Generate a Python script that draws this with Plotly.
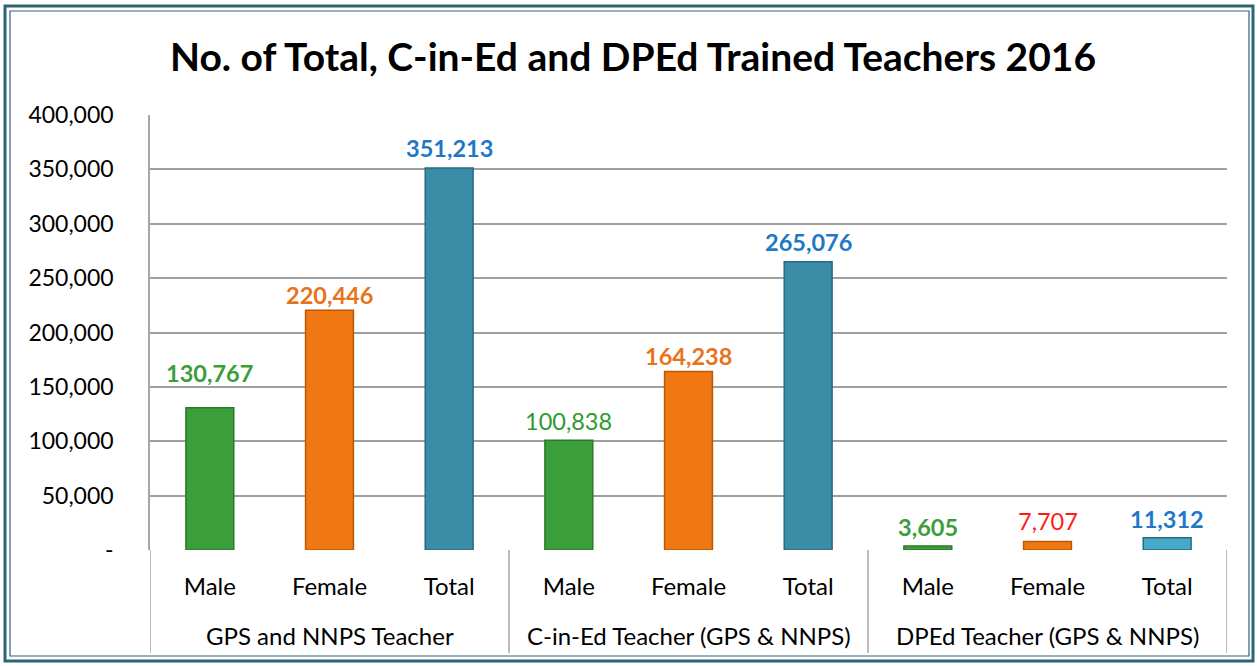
import plotly.graph_objects as go

# ---- data ----
groups = ["GPS and NNPS Teacher", "C-in-Ed Teacher (GPS & NNPS)", "DPEd Teacher (GPS & NNPS)"]
subcats = ["Male", "Female", "Total"]
gps_values = [130767, 220446, 351213]
cined_values = [100838, 164238, 265076]
dped_values = [3605, 7707, 11312]
y_tickvals = [0, 50000, 100000, 150000, 200000, 250000, 300000, 350000, 400000]
y_ticktext = ["-", "50,000", "100,000", "150,000", "200,000", "250,000", "300,000", "350,000", "400,000"]

values = gps_values + cined_values + dped_values
labels = subcats * 3
xpos = list(range(len(values)))

bar_colors = ["#3A9E3A", "#F07711", "#3A8DA6",
              "#3A9E3A", "#F07711", "#3A8DA6",
              "#3A9E3A", "#F07711", "#46A9C8"]
line_colors = ["#2B7A2B", "#B8580A", "#2A6A80",
               "#2B7A2B", "#B8580A", "#2A6A80",
               "#2B7A2B", "#B8580A", "#2A6A80"]
label_colors = ["#3A9E3A", "#E8731A", "#1F78C6",
                "#2E9A2E", "#E8731A", "#1F78C6",
                "#3A9E3A", "#FF1A1A", "#1F78C6"]
label_bold = [True, True, True, False, True, True, True, False, True]
label_shift = [35, 15, 20, 19, 15, 20, 19, 21, 19]

FONT = "Lato"

fig = go.Figure()
fig.add_trace(go.Bar(
    x=xpos, y=values, width=0.4,
    marker=dict(color=bar_colors, line=dict(color=line_colors, width=1.5)),
    hoverinfo="skip", showlegend=False,
))

annotations = []
for i, v in enumerate(values):
    t = f"{v:,}"
    if label_bold[i]:
        t = f"<b>{t}</b>"
    annotations.append(dict(
        x=i, y=v, xref="x", yref="y", text=t, showarrow=False,
        yanchor="middle", yshift=label_shift[i],
        font=dict(family=FONT, size=23.5, color=label_colors[i]),
    ))

# group labels
plot_h = 435.0
for gi, g in enumerate(groups):
    annotations.append(dict(
        x=gi * 3 + 1, y=-(85.0 / plot_h), xref="x", yref="paper",
        text=g, showarrow=False, yanchor="middle",
        font=dict(family=FONT, size=24, color="#000000"),
    ))

shapes = []
# group dividers below axis
for xb in [-0.5, 2.5, 5.5, 8.5]:
    shapes.append(dict(type="line", xref="x", yref="paper",
                       x0=xb, x1=xb, y0=0, y1=-(103.0 / plot_h),
                       line=dict(color="#A6A6A6", width=1.5)))

# outer double border (paper coords relative to plot area)
L, R, T, B = 150.0, 1227.0, 115.0, 550.0
W = R - L
H = B - T

def px(x):
    return (x - L) / W

def py(y):
    return (B - y) / H

shapes.append(dict(type="rect", xref="paper", yref="paper",
                   x0=px(5), x1=px(1253), y0=py(661), y1=py(6),
                   line=dict(color="#2E6477", width=3), layer="above"))
shapes.append(dict(type="rect", xref="paper", yref="paper",
                   x0=px(10), x1=px(1249), y0=py(656), y1=py(11),
                   line=dict(color="#2E6477", width=1.2), layer="above"))

fig.update_layout(
    width=1257, height=666,
    margin=dict(l=150, r=30, t=115, b=116),
    paper_bgcolor="white", plot_bgcolor="white",
    title=dict(text="<b>No. of Total, C-in-Ed and DPEd Trained Teachers 2016</b>",
               x=(633 - 0) / 1257, xanchor="center", y=1 - 57 / 666, yanchor="middle",
               font=dict(family=FONT, size=39, color="#000000")),
    xaxis=dict(range=[-0.5, 8.5], tickvals=xpos, ticktext=labels,
               showgrid=False, zeroline=False, showline=False,
               ticks="", ticklabelstandoff=20,
               tickfont=dict(family=FONT, size=24, color="#000000")),
    yaxis=dict(range=[0, 400000], tickvals=y_tickvals, ticktext=y_ticktext,
               showgrid=True, gridcolor="#A0A0A0", gridwidth=1.5,
               zeroline=False, showline=True, linecolor="#A6A6A6", linewidth=1.5,
               ticks="", ticklabelstandoff=30,
               tickfont=dict(family=FONT, size=23, color="#000000")),
    annotations=annotations, shapes=shapes,
    bargap=0.6,
)

fig.write_html("out.html", config={"displayModeBar": False},
               post_script="document.body.style.margin='0';document.body.style.overflow='hidden';")
